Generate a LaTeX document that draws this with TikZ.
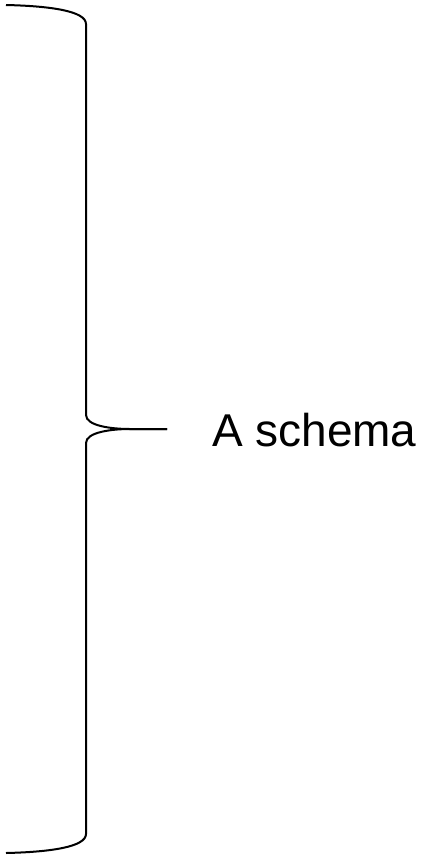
\documentclass[tikz,border=0pt]{standalone}
\usepackage{fontspec}
\setmainfont{Liberation Sans}
\usepackage{tikz}
\usetikzlibrary{positioning}

\begin{document}
\begin{tikzpicture}[x=1pt,y=-1pt,line width=2pt,line join=round]
		\useasboundingbox (0,0) rectangle (427,855); % edit here for the margins
		\coordinate (top) at (6,5);
		\coordinate (bot) at (6,853);
		\coordinate (tip) at (167,429);
		\draw (top) .. controls (50,6) and (86,11) .. (86,24) -- (86,415)
		.. controls (86,426) and (112,429) .. (130,429) -- (tip); % edit here for the upper half
		\draw (bot) .. controls (50,852) and (86,847) .. (86,834) -- (86,443)
		.. controls (86,432) and (112,429) .. (130,429) -- (tip); % edit here for the lower half
		\node[anchor=base west,inner sep=0pt,font=\fontsize{46}{50}\selectfont] (label) at (211,446) {A schema};
\end{tikzpicture}
\end{document}
